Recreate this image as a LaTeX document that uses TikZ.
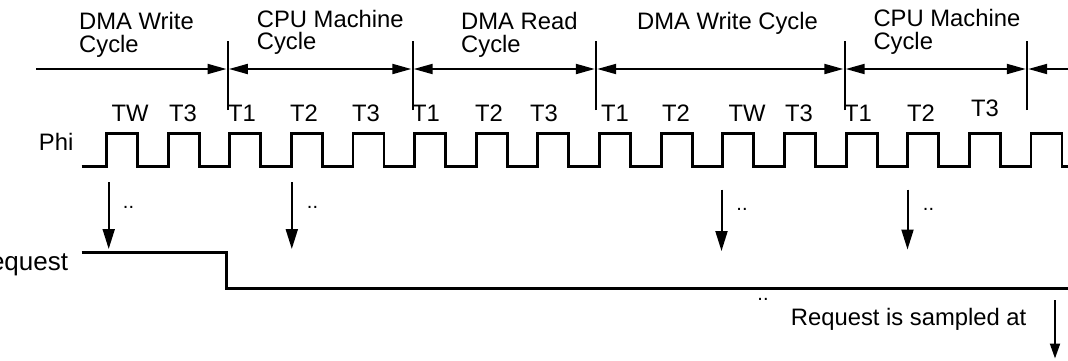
\documentclass[tikz,border=0pt]{standalone}
\usepackage{fontspec}
\setmainfont{Liberation Sans}
\usetikzlibrary{arrows.meta}
\begin{document}
\begin{tikzpicture}[x=1pt,y=-1pt,
  lbl/.style={inner sep=0pt, font=\fontsize{23.8}{22.5}\selectfont},
  cyc/.style={lbl, anchor=north west, align=left},
  tlbl/.style={lbl, anchor=base},
  dots/.style={inner sep=0pt, font=\fontsize{20}{20}\selectfont, anchor=base},
  wave/.style={line width=2.9pt, line join=miter},
  tickline/.style={line width=2pt},
  span/.style={line width=2pt, {Triangle[length=19pt,width=10pt]}-{Triangle[length=19pt,width=10pt]}, shorten <=1.2pt, shorten >=1.2pt},
  spanr/.style={line width=2pt, -{Triangle[length=19pt,width=10pt]}, shorten >=1.2pt},
  down/.style={line width=2pt, -{Triangle[length=20pt,width=12pt]}},
  downs/.style={line width=2pt, -{Triangle[length=15pt,width=10pt]}}
]
\useasboundingbox (0,0) rectangle (1068,360);

% cycle labels
\node[cyc] (c1) at (79,12.5) {DMA Write\\Cycle};
\node[cyc] (c2) at (256.7,10) {CPU Machine\\Cycle};
\node[cyc] (c3) at (461,12.5) {DMA Read\\Cycle};
\node[lbl, anchor=base west] (c4) at (637,29) {DMA Write Cycle};
\node[cyc] (c5) at (873.3,9.5) {CPU Machine\\Cycle};

% ticks and span arrows
\coordinate (s0) at (36,69);
\coordinate (k1) at (227.7,69);
\coordinate (k2) at (412.5,69);
\coordinate (k3) at (596,69);
\coordinate (k4) at (844.5,69);
\coordinate (k5) at (1027,69);
\coordinate (se) at (1068,69);
\foreach \k in {k1,k2,k3,k4,k5}{
  \draw[tickline] ([yshift=-41pt]\k) -- ([yshift=28pt]\k);
}
\draw[spanr] (s0) -- (k1);
\draw[span] (k1) -- (k2);
\draw[span] (k2) -- (k3);
\draw[span] (k3) -- (k4);
\draw[span] (k4) -- (k5);
\draw[spanr] (se) -- (k5);

% T labels
\foreach \x/\t in {130/TW,183/T3,242/T1,304/T2,366/T3,426/T1,489/T2,544/T3,615/T1,676/T2,747/TW,799/T3,858/T1,921/T2}{
  \node[tlbl] at (\x,121.5) {\t};
}
\node[tlbl] (tlast) at (985,116) {T3};

% Phi
\node[lbl, anchor=base east] (phi) at (73.5,150) {Phi};
\coordinate (clk0) at (81.7,166.7);
\coordinate (clkE) at (1068,166.7);
\draw[wave] (clk0)
  \foreach \i in {0,...,15}{
    -- ({106.5+61.63*\i},166.7) -- ({106.5+61.63*\i},133.3)
    -- ({137.5+61.63*\i},133.3) -- ({137.5+61.63*\i},166.7)
  } -- (clkE);

% sampling arrows
\coordinate (a1t) at (108.7,182);
\coordinate (a1b) at (108.7,249);
\coordinate (a2t) at (291.8,182);
\coordinate (a2b) at (291.8,249);
\coordinate (a3t) at (721.5,189.5);
\coordinate (a3b) at (721.5,251);
\coordinate (a4t) at (907.5,189.5);
\coordinate (a4b) at (907.5,249.5);
\draw[down] (a1t) -- (a1b);
\draw[down] (a2t) -- (a2b);
\draw[down] (a3t) -- (a3b);
\draw[down] (a4t) -- (a4b);
\node[dots] (d1) at (128.5,208.5) {..};
\node[dots] (d2) at (312.5,208.5) {..};
\node[dots] (d3) at (742,210.5) {..};
\node[dots] (d4) at (928.5,210.5) {..};

% Request waveform
\node[lbl, anchor=base east, font=\fontsize{26}{26}\selectfont] (req) at (68.3,270) {Request};
\coordinate (r0) at (81.7,252);
\coordinate (r1) at (226,252);
\coordinate (r2) at (226,288.5);
\coordinate (rE) at (1068,288.5);
\draw[wave, line width=3pt] (r0) -- (r1) -- (r2) -- (rE);

% legend
\node[dots] (ld) at (763,300.5) {..};
\node[lbl, anchor=base west] (lt) at (790.7,325) {Request is sampled at};
\coordinate (lat) at (1055,300);
\coordinate (lab) at (1055,358.5);
\draw[downs] (lat) -- (lab);
\end{tikzpicture}
\end{document}
